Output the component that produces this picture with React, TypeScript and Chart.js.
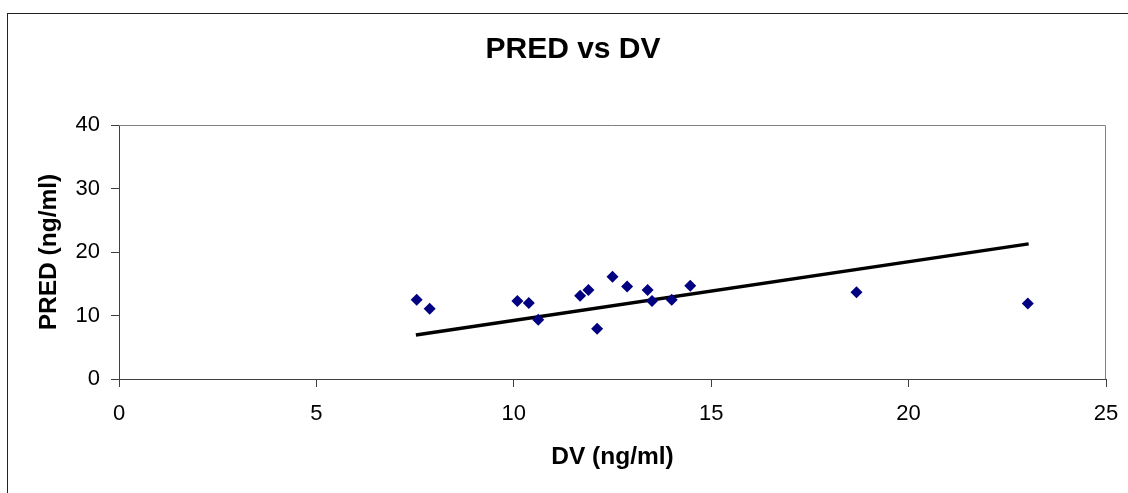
import React, { useEffect, useRef } from "react";
import { Chart, registerables } from "chart.js";

Chart.register(...registerables);

const chartTitle = "PRED vs DV";
const xAxisTitle = "DV (ng/ml)";
const yAxisTitle = "PRED (ng/ml)";

const dvValues = [7.54, 7.87, 10.09, 10.38, 10.62, 11.68, 11.89, 12.11, 12.5, 12.87, 13.39, 13.5, 14.0, 14.47, 18.68, 23.02];
const predValues = [12.47, 11.06, 12.27, 11.95, 9.33, 13.1, 14.0, 7.91, 16.09, 14.57, 14.0, 12.27, 12.47, 14.68, 13.68, 11.9];

const trendX = [7.52, 23.04];
const trendY = [6.92, 21.28];

const xTicks = [0, 5, 10, 15, 20, 25];
const yTicks = [0, 10, 20, 30, 40];

const FONT = "'Liberation Sans', Arial, sans-serif";

export default function App() {
  const ref = useRef<HTMLCanvasElement | null>(null);

  useEffect(() => {
    const canvas = ref.current;
    if (!canvas) return;

    const titlePlugin = {
      id: "customTitle",
      afterDraw(chart: any) {
        const ctx = chart.ctx;
        ctx.save();
        ctx.font = `bold 30px ${FONT}`;
        ctx.fillStyle = "#000";
        ctx.textAlign = "center";
        ctx.textBaseline = "middle";
        ctx.fillText(chartTitle, 573, 50);
        ctx.restore();
      },
    };

    const framePlugin = {
      id: "plotFrame",
      beforeDatasetsDraw(chart: any) {
        const { ctx, chartArea } = chart;
        ctx.save();
        ctx.strokeStyle = "#808080";
        ctx.lineWidth = 1;
        ctx.beginPath();
        ctx.moveTo(chartArea.left, chartArea.top + 0.5);
        ctx.lineTo(chartArea.right - 0.5, chartArea.top + 0.5);
        ctx.lineTo(chartArea.right - 0.5, chartArea.bottom);
        ctx.stroke();
        ctx.restore();
      },
    };

    const chart = new Chart(canvas, {
      type: "scatter",
      data: {
        datasets: [
          {
            label: "Trend",
            data: trendX.map((x, i) => ({ x, y: trendY[i] })),
            showLine: true,
            borderColor: "#000000",
            borderWidth: 3.5,
            pointRadius: 0,
            fill: false,
            order: 2,
          },
          {
            label: "PRED",
            data: dvValues.map((x, i) => ({ x, y: predValues[i] })),
            pointStyle: "rectRot",
            pointRadius: 6,
            pointHoverRadius: 6,
            backgroundColor: "#000080",
            borderColor: "#000080",
            borderWidth: 0,
            order: 1,
          },
        ],
      },
      options: {
        responsive: false,
        animation: false,
        devicePixelRatio: 1,
        layout: { padding: { top: 125, right: 22, left: 0, bottom: 0 } },
        plugins: {
          legend: { display: false },
          tooltip: { enabled: false },
          title: { display: false },
        },
        scales: {
          x: {
            type: "linear",
            min: 0,
            max: 25,
            afterBuildTicks: (scale: any) => {
              scale.ticks = xTicks.map((v) => ({ value: v }));
            },
            afterFit: (scale: any) => {
              scale.height = 114;
              scale.paddingRight = 0;
              scale.paddingLeft = 0;
            },
            ticks: {
              color: "#000",
              font: { family: FONT, size: 22 },
              padding: 14,
              maxRotation: 0,
            },
            grid: {
              drawOnChartArea: false,
              drawTicks: true,
              tickLength: 8,
              color: "#404040",
            },
            border: { display: true, color: "#404040", width: 1 },
            title: {
              display: true,
              text: xAxisTitle,
              color: "#000",
              font: { family: FONT, size: 24.5, weight: "bold" },
              padding: { top: 0, bottom: 21 },
            },
          },
          y: {
            type: "linear",
            min: 0,
            max: 40,
            afterBuildTicks: (scale: any) => {
              scale.ticks = yTicks.map((v) => ({ value: v }));
            },
            afterFit: (scale: any) => {
              scale.width = 119;
              scale.paddingTop = 0;
              scale.paddingBottom = 0;
            },
            ticks: {
              color: "#000",
              font: { family: FONT, size: 22 },
              padding: 11,
            },
            grid: {
              drawOnChartArea: false,
              drawTicks: true,
              tickLength: 8,
              color: "#404040",
            },
            border: { display: true, color: "#404040", width: 1 },
            title: {
              display: true,
              text: yAxisTitle,
              color: "#000",
              font: { family: FONT, size: 24.5, weight: "bold" },
              padding: { top: 35, bottom: 0 },
            },
          },
        },
      },
      plugins: [framePlugin, titlePlugin],
    } as any);

    return () => chart.destroy();
  }, []);

  return (
    <div style={{ position: "fixed", left: 0, top: 0, width: 1128, height: 493, background: "#fff", overflow: "hidden" }}>
      <div
        style={{
          position: "absolute",
          left: 7,
          top: 13,
          width: 1200,
          height: 600,
          borderTop: "1px solid #222",
          borderLeft: "1px solid #222",
        }}
      />
      <canvas ref={ref} width={1128} height={493} style={{ position: "absolute", left: 0, top: 0, display: "block" }} />
    </div>
  );
}
